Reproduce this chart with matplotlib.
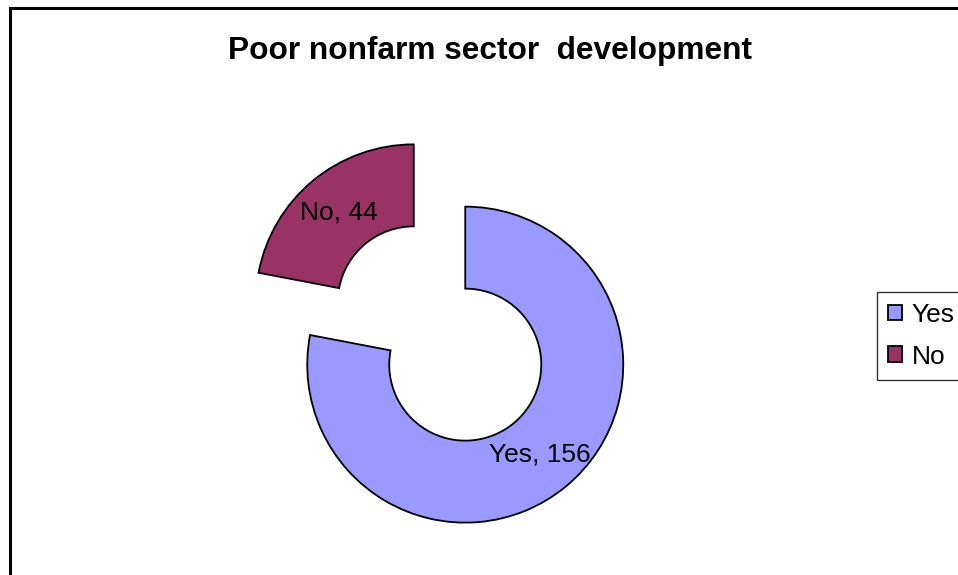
import matplotlib
matplotlib.use("Agg")
import matplotlib.pyplot as plt
from matplotlib.patches import Rectangle

# Survey answers
categories = ["Yes", "No"]
counts = [156, 44]
colors = ["#9999FF", "#993366"]

plt.rcParams["font.family"] = ["Liberation Sans", "DejaVu Sans"]

W, H = 958, 575
fig = plt.figure(figsize=(W / 100, H / 100), dpi=100)
ax = fig.add_axes([0, 0, 1, 1])

# chart area border (runs off the right and bottom edges)
ax.add_patch(Rectangle((10, -20), W + 40, H - 8 + 20, fill=False,
                       edgecolor="black", lw=2.2, clip_on=False))

radius = 158
ring = 82
labels = [f"{c}, {v}" for c, v in zip(categories, counts)]
wedges, texts = ax.pie(counts, labels=labels, colors=colors,
                       startangle=90, counterclock=False,
                       center=(439.5, H - 333.5), radius=radius,
                       explode=[40.4, 40.4], labeldistance=0.74,
                       wedgeprops=dict(width=ring, edgecolor="black", linewidth=1.3),
                       textprops=dict(fontsize=19, color="black"),
                       frame=True)
ax.set_xlim(0, W)
ax.set_ylim(0, H)
ax.set_aspect("equal")
ax.axis("off")
for t in texts:
    t.set_ha("center")
    t.set_va("center")

fig.text(490 / W, 1 - 51 / H, "Poor nonfarm sector  development",
         ha="center", va="center", fontsize=22.8, fontweight="bold")

leg = fig.legend(wedges, categories, loc="upper left",
                 bbox_to_anchor=(877 / W, 1 - 292 / H), borderaxespad=0,
                 fontsize=19, frameon=True, fancybox=False,
                 handlelength=0.52, handleheight=0.52, handletextpad=0.38,
                 labelspacing=0.66, borderpad=0.42)
leg.get_frame().set_edgecolor("black")
leg.get_frame().set_linewidth(1.0)
for h in leg.legend_handles:
    h.set_edgecolor("black")
    h.set_linewidth(1.3)

fig.savefig("out.png", dpi=100)
